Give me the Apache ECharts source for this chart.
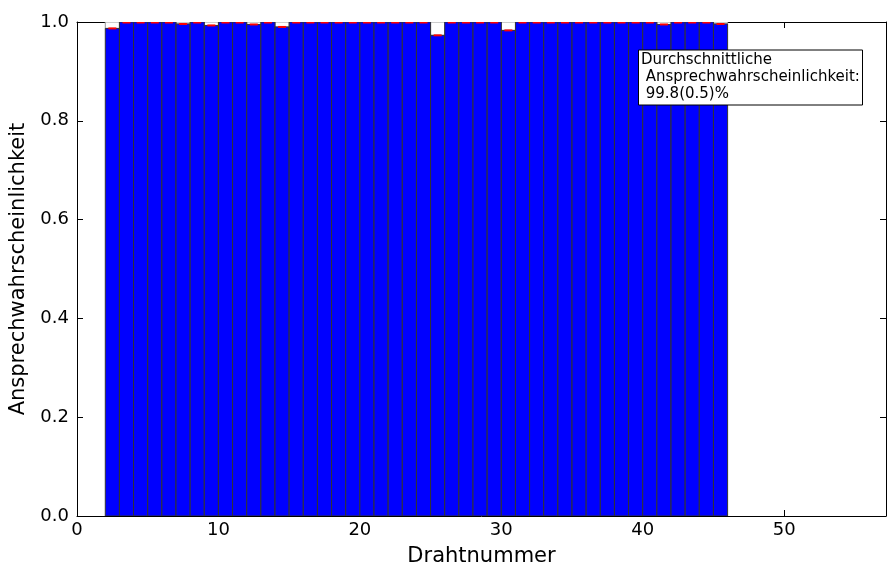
<!DOCTYPE html>
<html>
<head>
<meta charset="utf-8">
<script src="https://cdn.jsdelivr.net/npm/echarts@6/dist/echarts.min.js"></script>
<style>
  html, body { margin: 0; padding: 0; background: #fff; }
  #chart { width: 887px; height: 566px; }
</style>
</head>
<body>
<div id="chart"></div>
<script>
// Wire numbers (left edge of each bar, bars are one unit wide)
const wireNumbers = [2, 3, 4, 5, 6, 7, 8, 9, 10, 11, 12, 13, 14, 15, 16, 17, 18, 19, 20, 21, 22, 23,
                     24, 25, 26, 27, 28, 29, 30, 31, 32, 33, 34, 35, 36, 37, 38, 39, 40, 41, 42, 43, 44, 45];
// Response probability per wire
const efficiency = [0.987, 1.000, 1.000, 1.000, 1.000, 0.996, 1.000, 0.993, 1.000, 1.000, 0.995, 1.000,
                    0.990, 1.000, 1.000, 1.000, 1.000, 1.000, 1.000, 1.000, 1.000, 1.000, 1.000, 0.973,
                    1.000, 1.000, 1.000, 1.000, 0.983, 1.000, 1.000, 1.000, 1.000, 1.000, 1.000, 1.000,
                    1.000, 1.000, 1.000, 0.995, 1.000, 1.000, 1.000, 0.996];
// Statistical uncertainty per wire
const efficiencyErr = [0.002, 0.002, 0.002, 0.002, 0.002, 0.002, 0.002, 0.002, 0.002, 0.002, 0.002, 0.002,
                       0.002, 0.002, 0.002, 0.002, 0.002, 0.002, 0.002, 0.002, 0.002, 0.002, 0.002, 0.002,
                       0.002, 0.002, 0.002, 0.002, 0.002, 0.002, 0.002, 0.002, 0.002, 0.002, 0.002, 0.002,
                       0.002, 0.002, 0.002, 0.002, 0.002, 0.002, 0.002, 0.002];
const xTicks = [0, 10, 20, 30, 40, 50];
const yTicks = [0.0, 0.2, 0.4, 0.6, 0.8, 1.0];
const summaryLines = ['Durchschnittliche', ' Ansprechwahrscheinlichkeit:', ' 99.8(0.5)%'];

const FONT = 'DejaVu Sans';
const chart = echarts.init(document.getElementById('chart'), null, { renderer: 'canvas' });

const rows = wireNumbers.map((w, i) => [w, efficiency[i], efficiencyErr[i]]);

function barShape(api, y0, y1) {
  const p0 = api.coord([api.value(0), y0]);
  const p1 = api.coord([api.value(0) + 1, y1]);
  return { x: p0[0], y: p1[1], width: p1[0] - p0[0], height: p0[1] - p1[1] };
}

const axisCommon = {
  axisLine: { show: true, onZero: false, lineStyle: { color: '#000', width: 1 } },
  axisTick: { show: true, inside: true, length: 6, lineStyle: { color: '#000', width: 1 } },
  splitLine: { show: false }
};

chart.setOption({
  animation: false,
  backgroundColor: '#fff',
  grid: { left: 77, right: 1, top: 22, bottom: 50, containLabel: false, outerBoundsMode: 'none' },
  xAxis: [
    Object.assign({}, axisCommon, {
      type: 'value', min: 0, max: 57.2, interval: 10, position: 'bottom',
      name: 'Drahtnummer', nameLocation: 'middle', nameGap: 30,
      nameTextStyle: { fontFamily: FONT, fontSize: 21, color: '#000' },
      axisLabel: {
        fontFamily: FONT, fontSize: 18, color: '#000', margin: 5, showMaxLabel: false,
        formatter: v => xTicks.includes(v) ? String(v) : ''
      }
    }),
    Object.assign({}, axisCommon, {
      type: 'value', min: 0, max: 57.2, interval: 10, position: 'top',
      axisLabel: { show: false }
    })
  ],
  yAxis: [
    Object.assign({}, axisCommon, {
      type: 'value', min: 0, max: 1, interval: 0.2, position: 'left',
      name: 'Ansprechwahrscheinlichkeit', nameLocation: 'middle', nameGap: 45, nameRotate: 90,
      nameTextStyle: { fontFamily: FONT, fontSize: 21, color: '#000' },
      axisLabel: {
        fontFamily: FONT, fontSize: 18, color: '#000', margin: 8,
        formatter: v => yTicks.some(t => Math.abs(t - v) < 1e-9) ? v.toFixed(1) : ''
      }
    }),
    Object.assign({}, axisCommon, {
      type: 'value', min: 0, max: 1, interval: 0.2, position: 'right',
      axisLabel: { show: false }
    })
  ],
  series: [
    {
      // inefficient fraction: white box up to 1.0
      type: 'custom', clip: true, data: rows, z: 2,
      renderItem: (params, api) => ({
        type: 'rect',
        shape: barShape(api, api.value(1), 1),
        style: { fill: '#fff', stroke: '#999', lineWidth: 1 }
      })
    },
    {
      // efficient fraction: blue bar
      type: 'custom', clip: true, data: rows, z: 3,
      renderItem: (params, api) => ({
        type: 'rect',
        shape: barShape(api, 0, api.value(1)),
        style: { fill: '#0000ff', stroke: '#333', lineWidth: 1 }
      })
    },
    {
      // error band around each value
      type: 'custom', clip: true, data: rows, z: 4,
      renderItem: (params, api) => {
        const c = api.coord([api.value(0) + 0.5, api.value(1)]);
        const lo = api.coord([0, api.value(1) - api.value(2)]);
        const hi = api.coord([0, Math.min(1, api.value(1) + api.value(2))]);
        return {
          type: 'rect',
          shape: { x: c[0] - 4, y: hi[1], width: 8, height: Math.max(1.5, lo[1] - hi[1]) },
          style: { fill: '#ff0000' }
        };
      }
    }
  ],
  graphic: [
    {
      type: 'rect', left: 638, top: 49.5, z: 10,
      shape: { width: 224, height: 55 },
      style: { fill: '#fff', stroke: '#000', lineWidth: 1 }
    },
    {
      type: 'text', left: 641, top: 52, z: 11,
      style: {
        text: summaryLines.join('\n'), fontFamily: FONT, fontSize: 15,
        lineHeight: 16.7, fill: '#000'
      }
    }
  ]
});
</script>
</body>
</html>
